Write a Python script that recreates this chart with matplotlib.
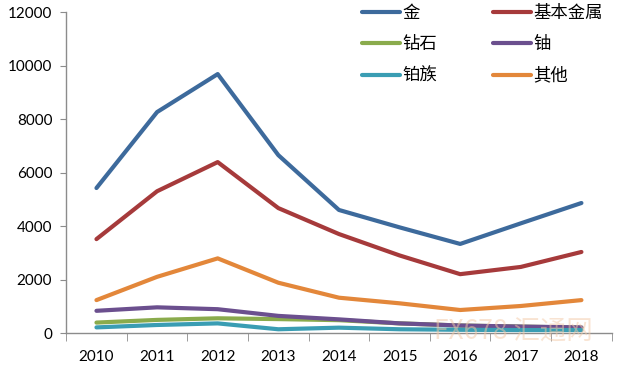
import matplotlib
matplotlib.use('Agg')
import matplotlib.pyplot as plt
import numpy as np

plt.rcParams['font.family'] = ['Lato', 'Noto Sans CJK SC', 'DejaVu Sans']

years = ['2010', '2011', '2012', '2013', '2014', '2015', '2016', '2017', '2018']
gold = [5420, 8260, 9680, 6650, 4600, 3950, 3330, 4100, 4860]        # 金
base_metals = [3510, 5300, 6390, 4670, 3700, 2900, 2200, 2470, 3030]  # 基本金属
diamond = [390, 490, 550, 520, 480, 360, 280, 240, 200]              # 钻石
uranium = [830, 960, 890, 640, 510, 360, 280, 240, 210]              # 铀
platinum = [210, 300, 360, 140, 200, 140, 120, 110, 110]             # 铂族
other = [1230, 2100, 2790, 1880, 1320, 1110, 860, 1010, 1230]        # 其他

series = [
    ('金', gold, '#3D6A9C'),
    ('基本金属', base_metals, '#A63A3B'),
    ('钻石', diamond, '#8AAB4C'),
    ('铀', uranium, '#6B4F8E'),
    ('铂族', platinum, '#3A9DB3'),
    ('其他', other, '#E3873A'),
]

fig = plt.figure(figsize=(6.3, 3.71), dpi=100)
ax = fig.add_axes([0.105, 0.1024, 0.866, 0.8652])

x = np.arange(len(years))
lines = {}
for name, vals, col in series:
    lines[name], = ax.plot(x, vals, color=col, lw=3.0, solid_capstyle='round', label=name)

ax.set_xlim(-0.5, len(years) - 0.5)
ax.set_ylim(0, 12000)
ax.set_yticks(range(0, 12001, 2000))
ax.set_xticks(x)
ax.set_xticklabels(years)
ax.set_xticks(np.arange(-0.5, len(years), 1.0), minor=True)

for s in ['top', 'right']:
    ax.spines[s].set_visible(False)
for s in ['left', 'bottom']:
    ax.spines[s].set_color('#8c8c8c')
    ax.spines[s].set_linewidth(1.0)

ax.tick_params(axis='y', labelsize=11, length=4, color='#8c8c8c', pad=6)
ax.tick_params(axis='x', which='major', labelsize=11, length=0, pad=12)
ax.tick_params(axis='x', which='minor', length=6, color='#8c8c8c')

# legend filled row by row like the original (matplotlib fills by column)
order = ['金', '钻石', '铂族', '基本金属', '铀', '其他']
fig.legend([lines[n] for n in order], order, loc='upper left', ncol=2, frameon=False,
           prop={'family': ['Noto Sans CJK SC'], 'size': 12.5},
           handlelength=2.2, handletextpad=0.15, columnspacing=3.2,
           labelspacing=0.78, borderpad=0, borderaxespad=0,
           bbox_to_anchor=(0.574, 0.99))

# watermark
fig.text(0.815, 0.105, 'FX678 汇通网', color='#f3c9a6', alpha=0.5, fontsize=19,
         family=['Noto Sans CJK SC'], ha='center', va='center')

fig.savefig('out.png', dpi=100)
